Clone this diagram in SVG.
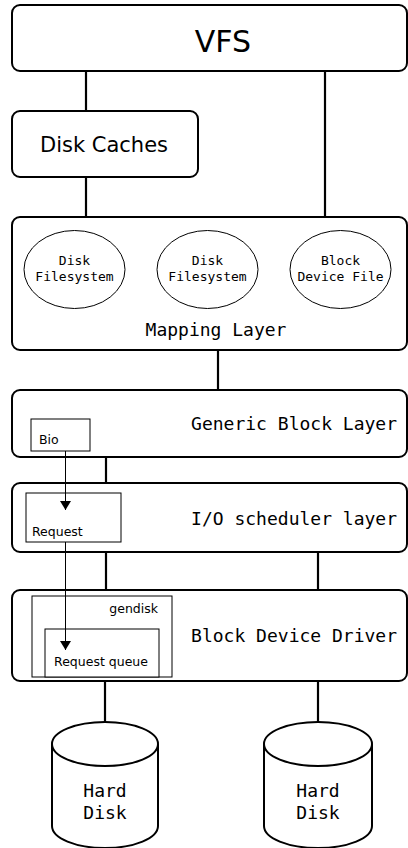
<svg xmlns="http://www.w3.org/2000/svg" width="408" height="848" viewBox="0 0 408 848">
<style>
.box{fill:#fff;stroke:#000;stroke-width:2}
.thin{fill:#fff;stroke:#000;stroke-width:1}
.ln{stroke:#000;stroke-width:2.2;fill:none}
.arr{stroke:#000;stroke-width:1;fill:none}
.sans{font-family:"DejaVu Sans",sans-serif;fill:#000}
.mono{font-family:"DejaVu Sans Mono",monospace;fill:#000}
</style>
<defs>
<marker id="ah" markerWidth="10" markerHeight="11" refX="9" refY="5.5" orient="auto" markerUnits="userSpaceOnUse">
<path d="M0,0 L9,5.5 L0,11 Z" fill="#000"/>
</marker>
</defs>
<g id="connectors">
<line class="ln" x1="86" y1="71" x2="86" y2="111"/>
<line class="ln" x1="325" y1="71" x2="325" y2="217"/>
<line class="ln" x1="86" y1="177" x2="86" y2="217"/>
<line class="ln" x1="218" y1="350" x2="218" y2="390"/>
<line class="ln" x1="106" y1="457" x2="106" y2="483"/>
<line class="ln" x1="106" y1="552" x2="106" y2="590"/>
<line class="ln" x1="318" y1="552" x2="318" y2="590"/>
<line class="ln" x1="105" y1="681" x2="105" y2="722"/>
<line class="ln" x1="318" y1="681" x2="318" y2="722"/>
</g>
<g id="vfs">
<rect class="box" x="12" y="5" width="395" height="66" rx="8"/>
<text class="sans" x="223" y="52" font-size="30" text-anchor="middle">VFS</text>
</g>
<g id="disk-caches">
<rect class="box" x="12" y="111" width="186" height="66" rx="8"/>
<text class="sans" x="104" y="152" font-size="21" text-anchor="middle">Disk Caches</text>
</g>
<g id="mapping-layer">
<rect class="box" x="12" y="217" width="395" height="133" rx="8"/>
<text class="mono" x="216" y="336" font-size="18" text-anchor="middle">Mapping Layer</text>
</g>
<g id="fs1">
<ellipse class="thin" cx="74.5" cy="269.5" rx="50.5" ry="39" stroke-width="1.5"/>
<text class="mono" x="74.5" y="265" font-size="13" text-anchor="middle">Disk</text>
<text class="mono" x="74.5" y="281" font-size="13" text-anchor="middle">Filesystem</text>
</g>
<g id="fs2">
<ellipse class="thin" cx="207.5" cy="269.5" rx="50.5" ry="39" stroke-width="1.5"/>
<text class="mono" x="207.5" y="265" font-size="13" text-anchor="middle">Disk</text>
<text class="mono" x="207.5" y="281" font-size="13" text-anchor="middle">Filesystem</text>
</g>
<g id="bdf">
<ellipse class="thin" cx="340.5" cy="269.5" rx="50.5" ry="39" stroke-width="1.5"/>
<text class="mono" x="340.5" y="265" font-size="13" text-anchor="middle">Block</text>
<text class="mono" x="340.5" y="281" font-size="13" text-anchor="middle">Device File</text>
</g>
<g id="generic-block-layer">
<rect class="box" x="12" y="390" width="395" height="67" rx="8"/>
<text class="mono" x="397" y="430" font-size="18" text-anchor="end">Generic Block Layer</text>
</g>
<g id="bio">
<rect class="thin" x="31" y="419" width="59" height="32"/>
<text class="sans" x="39" y="444" font-size="12.5">Bio</text>
</g>
<g id="io-scheduler">
<rect class="box" x="12" y="483" width="395" height="69" rx="8"/>
<text class="mono" x="397" y="525" font-size="18" text-anchor="end">I/O scheduler layer</text>
</g>
<g id="request">
<rect class="thin" x="26" y="493" width="95" height="49"/>
<text class="sans" x="32" y="536" font-size="12.5">Request</text>
</g>
<g id="block-device-driver">
<rect class="box" x="12" y="590" width="395" height="91" rx="8"/>
<text class="mono" x="397" y="642" font-size="18" text-anchor="end">Block Device Driver</text>
</g>
<g id="gendisk">
<rect class="thin" x="32" y="596" width="140" height="81"/>
<text class="sans" x="158" y="613" font-size="12.5" text-anchor="end">gendisk</text>
</g>
<g id="request-queue">
<rect class="thin" x="45" y="629" width="114" height="48"/>
<text class="sans" x="101" y="666" font-size="12.5" text-anchor="middle">Request queue</text>
</g>
<g id="flow-arrows">
<line class="arr" x1="65.5" y1="451" x2="65.5" y2="510" marker-end="url(#ah)"/>
<line class="arr" x1="65.5" y1="542" x2="65.5" y2="650" marker-end="url(#ah)"/>
</g>
<g id="hard-disk-1">
<path class="box" d="M52,744 L52,826 A53,22 0 0 0 158,826 L158,744"/>
<ellipse class="box" cx="105" cy="744" rx="53" ry="22"/>
<text class="mono" x="105" y="797" font-size="18" text-anchor="middle">Hard</text>
<text class="mono" x="105" y="819" font-size="18" text-anchor="middle">Disk</text>
</g>
<g id="hard-disk-2">
<path class="box" d="M264,744 L264,826 A54,22 0 0 0 372,826 L372,744"/>
<ellipse class="box" cx="318" cy="744" rx="54" ry="22"/>
<text class="mono" x="318" y="797" font-size="18" text-anchor="middle">Hard</text>
<text class="mono" x="318" y="819" font-size="18" text-anchor="middle">Disk</text>
</g>
</svg>
